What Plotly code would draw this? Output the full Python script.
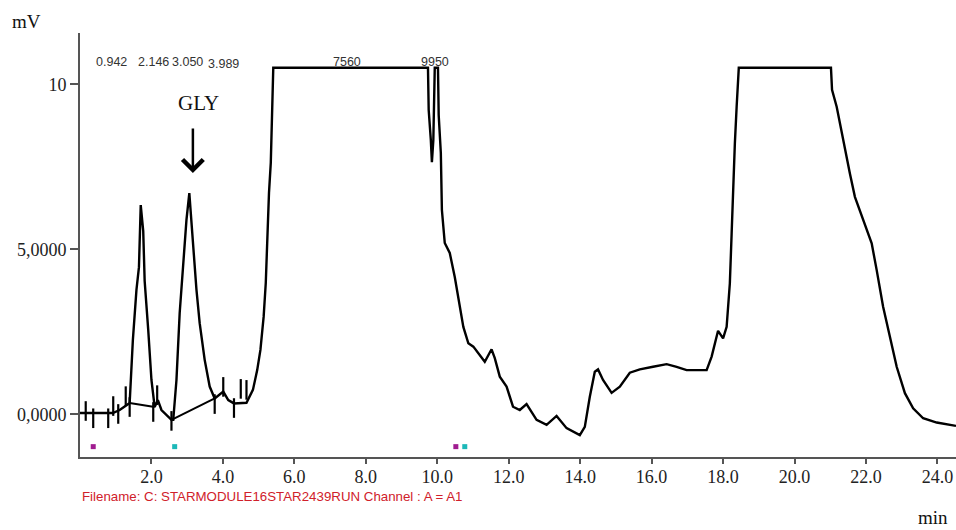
import plotly.graph_objects as go

# ---- data ----
time_min = [0.00, 0.55, 0.92, 1.11, 1.39, 1.48, 1.58, 1.65, 1.70, 1.77,
            1.81, 1.91, 2.00, 2.09, 2.18, 2.28, 2.56, 2.61, 2.70, 2.79,
            2.89, 2.98, 3.06, 3.17, 3.26, 3.35, 3.49, 3.63, 3.77, 4.01,
            4.15, 4.31, 4.66, 4.84, 4.96, 5.05, 5.14, 5.20, 5.24, 5.29,
            5.34, 5.38, 5.41, 9.74, 9.76, 9.82, 9.85, 9.89, 9.93, 10.02,
            10.04, 10.10, 10.13, 10.21, 10.35, 10.49, 10.64, 10.73, 10.87, 11.01,
            11.33, 11.52, 11.61, 11.75, 11.94, 12.12, 12.31, 12.50, 12.78, 13.06,
            13.34, 13.62, 13.99, 14.13, 14.27, 14.41, 14.50, 14.64, 14.88, 15.11,
            15.39, 15.67, 16.04, 16.42, 16.70, 16.98, 17.54, 17.68, 17.86, 18.00,
            18.10, 18.19, 18.24, 18.28, 18.33, 18.38, 18.44, 21.02, 21.05, 21.18,
            21.36, 21.55, 21.69, 21.92, 22.16, 22.30, 22.48, 22.67, 22.86, 23.09,
            23.32, 23.60, 23.98, 24.52]
signal_mv = [0.04, 0.04, 0.04, 0.13, 0.34, 2.25, 3.77, 4.46, 6.34, 5.55,
             4.04, 2.55, 1.04, 0.22, 0.43, 0.13, -0.17, -0.17, 1.04, 3.07,
             4.58, 5.89, 6.70, 5.08, 3.77, 2.76, 1.65, 0.84, 0.48, 0.69,
             0.43, 0.33, 0.35, 0.74, 1.34, 1.95, 2.95, 3.98, 5.28, 6.71,
             7.62, 9.13, 10.5, 10.5, 9.22, 8.31, 7.64, 8.31, 10.5, 10.5,
             9.07, 7.92, 6.19, 5.19, 4.89, 4.16, 3.25, 2.65, 2.15, 2.05,
             1.59, 1.97, 1.70, 1.14, 0.84, 0.23, 0.13, 0.31, -0.17, -0.32,
             -0.05, -0.42, -0.63, -0.38, 0.53, 1.29, 1.36, 1.04, 0.65, 0.84,
             1.26, 1.36, 1.44, 1.52, 1.44, 1.34, 1.34, 1.75, 2.53, 2.30,
             2.65, 3.97, 5.48, 6.80, 8.21, 9.32, 10.5, 10.5, 9.83, 9.32,
             8.31, 7.30, 6.59, 5.89, 5.18, 4.37, 3.26, 2.35, 1.44, 0.64,
             0.18, -0.12, -0.25, -0.35]

baseline_t = [1.39, 2.09, None, 2.56, 3.77]
baseline_mv = [0.34, 0.22, None, -0.17, 0.48]

mark_t = [0.16, 0.37, 0.79, 0.93, 1.07, 1.28, 1.39, 2.05, 2.16, 2.56,
          3.77, 4.01, 4.31, 4.50, 4.66]
mark_mv = [0.10, -0.12, -0.12, 0.25, 0.01, 0.55, 0.22, 0.07, 0.58, -0.20,
           0.31, 0.83, 0.19, 0.77, 0.74]

event_magenta_t = [0.37, 10.52]
event_cyan_t = [2.65, 10.77]
event_level = -0.98

peak_labels = ["0.942", "2.146", "3.050", "3.989", "7560", "9950"]
peak_label_t = [0.89, 2.05, 3.00, 4.03, 7.48, 9.93]
peak_label_mv = [10.68, 10.68, 10.68, 10.61, 10.68, 10.68]

x_tick_vals = [2, 4, 6, 8, 10, 12, 14, 16, 18, 20, 22, 24]
x_tick_text = ["2.0", "4.0", "6.0", "8.0", "10.0", "12.0", "14.0", "16.0",
               "18.0", "20.0", "22.0", "24.0"]
y_tick_vals = [0, 5, 10]
y_tick_text = ["0,0000", "5,0000", "10"]

gly_tip = (3.16, 7.31)
gly_text_pos = (3.31, 9.43)

SERIF = "Liberation Serif, Times New Roman, serif"
SANS = "Liberation Sans, Arial, sans-serif"

fig = go.Figure()
fig.add_trace(go.Scatter(x=time_min, y=signal_mv, mode="lines",
                         line=dict(color="black", width=2.4), hoverinfo="skip"))
fig.add_trace(go.Scatter(x=baseline_t, y=baseline_mv, mode="lines",
                         line=dict(color="black", width=2), hoverinfo="skip"))
fig.add_trace(go.Scatter(x=mark_t, y=mark_mv, mode="markers",
                         marker=dict(symbol="line-ns", size=14,
                                     line=dict(width=2.2, color="black")),
                         hoverinfo="skip"))
fig.add_trace(go.Scatter(x=event_magenta_t, y=[event_level] * len(event_magenta_t),
                         mode="markers",
                         marker=dict(symbol="square", size=5, color="#a01c90",
                                     line=dict(width=0)), hoverinfo="skip"))
fig.add_trace(go.Scatter(x=event_cyan_t, y=[event_level] * len(event_cyan_t),
                         mode="markers",
                         marker=dict(symbol="square", size=5, color="#1cb8b8",
                                     line=dict(width=0)), hoverinfo="skip"))

annotations = []
for txt, tx, ty in zip(peak_labels, peak_label_t, peak_label_mv):
    annotations.append(dict(x=tx, y=ty, xref="x", yref="y", text=txt, showarrow=False,
                            xanchor="center", yanchor="middle",
                            font=dict(family=SANS, size=12.5, color="#333333")))
annotations.append(dict(x=gly_text_pos[0], y=gly_text_pos[1], xref="x", yref="y",
                        text="GLY", showarrow=False, xanchor="center", yanchor="middle",
                        font=dict(family=SERIF, size=21, color="#111111")))
annotations.append(dict(x=gly_tip[0], y=gly_tip[1], xref="x", yref="y", text="",
                        showarrow=True, ax=0, ay=-46, arrowhead=4, arrowsize=1.6,
                        arrowwidth=2.5, arrowcolor="black"))
annotations.append(dict(x=-0.0616, y=1.026, xref="paper", yref="paper", text="mV",
                        showarrow=False, xanchor="center", yanchor="middle",
                        font=dict(family=SERIF, size=19, color="#111111")))
annotations.append(dict(x=0.974, y=-0.170, xref="paper", yref="paper", text="min",
                        showarrow=False, xanchor="center", yanchor="bottom",
                        borderpad=0,
                        font=dict(family=SERIF, size=19, color="#111111")))
annotations.append(dict(x=0.0, y=-0.092, xref="paper", yref="paper", xanchor="left",
                        yanchor="middle",
                        text="Filename: C: STARMODULE16STAR2439RUN Channel : A = A1",
                        showarrow=False, font=dict(family=SANS, size=13.3, color="#d0202a")))

fig.update_layout(
    width=956, height=530,
    margin=dict(l=80, r=0, t=33, b=73),
    paper_bgcolor="white", plot_bgcolor="white",
    showlegend=False,
    annotations=annotations,
    xaxis=dict(range=[0, 24.52], tickvals=x_tick_vals, ticktext=x_tick_text,
               automargin=False, ticklabelstandoff=-3,
               showgrid=False, zeroline=False, showline=True, linecolor="#555555",
               linewidth=2, ticks="outside", ticklen=5, tickwidth=2, tickcolor="#555555",
               tickfont=dict(family=SERIF, size=18, color="#222222")),
    yaxis=dict(range=[-1.294, 11.555], tickvals=y_tick_vals, ticktext=y_tick_text,
               automargin=False,
               showgrid=False, zeroline=False, showline=True, linecolor="#555555",
               linewidth=2, ticks="outside", ticklen=8, tickwidth=2, tickcolor="#555555",
               tickfont=dict(family=SERIF, size=18, color="#222222")),
)

# remove the default 8px page margin so the 956x530 figure fills the window exactly
fig.write_html("out.html",
               config={"displayModeBar": False},
               post_script="document.body.style.margin='0px';"
                           "document.body.style.overflow='hidden';")
